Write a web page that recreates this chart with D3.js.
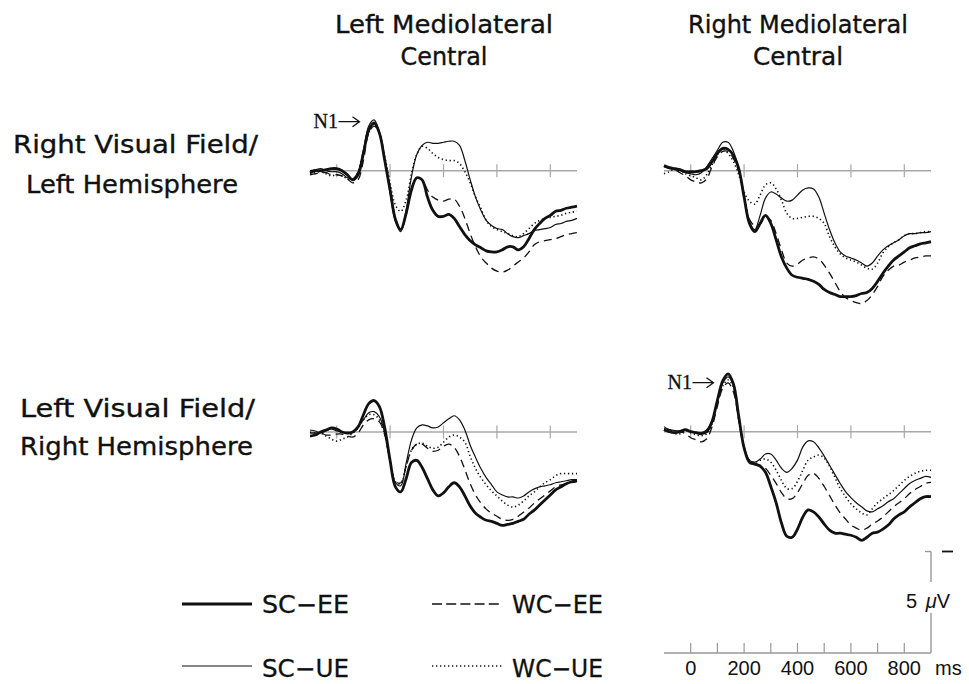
<!DOCTYPE html>
<html><head><meta charset="utf-8">
<script src="https://cdn.jsdelivr.net/npm/d3@7"></script>
<style>body{margin:0;background:#fff}svg{display:block}</style>
</head><body>
<svg id="c" width="969" height="684"></svg>
<script>
// time points (ms)
const times = [-100,-80,-60,-40,-20,0,20,40,60,80,100,120,140,160,180,200,220,240,260,280,300,320,340,360,380,400,420,440,460,480,500,520,540,560,580,600,620,640,660,680,700,720,740,760,780,800,820,840,860,880,900];
const conditions = ["SC-EE","SC-UE","WC-EE","WC-UE"];
const columnTitles = [["Left  Mediolateral","Central"],["Right  Mediolateral","Central"]];
const rowTitles = [["Right Visual Field/","Left Hemisphere"],["Left Visual Field/","Right Hemisphere"]];
const timeTicks = [0,100,200,300,400,500,600,700,800];
const timeTickLabels = [0,200,400,600,800];
const panelTicks = [0,200,400,600,800];
// amplitudes in microvolts (negative plotted up)
const TL_SCEE = [0.1,0,0,-0.05,-0.1,-0.1,0,0.2,0.45,0.2,-0.85,-2.0,-2.35,-1.85,-0.5,0.95,2.4,2.9,2.1,0.95,0.35,0.45,1.3,1.95,2.25,2.25,2.15,2.35,2.75,3.15,3.45,3.65,3.8,3.95,4.0,4.0,3.9,3.75,3.75,3.9,3.75,3.35,2.9,2.6,2.35,2.2,2.0,1.95,1.85,1.8,1.75];
const TL_SCUE = [0,-0.05,-0.1,0,0.05,0.05,0.15,0.35,0.4,0.05,-1.0,-2.2,-2.5,-1.9,-0.5,1.1,2.5,3.0,1.95,0.3,-0.8,-1.25,-1.4,-1.35,-1.35,-1.4,-1.45,-1.45,-1.25,-0.5,0.45,1.3,1.95,2.45,2.7,2.85,2.9,3.1,3.25,3.3,3.2,3.1,2.95,2.9,2.85,2.8,2.65,2.6,2.5,2.45,2.35];
const TL_WCEE = [0.2,0.15,0.1,0.1,0.2,0.2,0.25,0.4,0.6,0.45,-0.5,-1.85,-2.2,-1.85,-0.6,0.85,2.35,2.95,2.2,0.85,0.35,0.45,0.95,1.3,1.45,1.5,1.4,1.4,1.75,2.35,3.1,3.75,4.25,4.55,4.8,4.95,5.0,4.9,4.7,4.5,4.3,4.0,3.65,3.5,3.45,3.4,3.35,3.25,3.15,3.1,3.05];
const TL_WCUE = [0.15,0.1,0.05,0.15,0.25,0.2,0.25,0.4,0.45,0.05,-0.95,-1.9,-2.3,-1.85,-0.7,0.6,1.7,2.0,1.45,0.15,-0.8,-1.2,-1.1,-0.85,-0.65,-0.55,-0.5,-0.5,-0.35,0.05,0.6,1.3,1.85,2.45,2.75,2.9,3.0,3.1,3.2,3.25,3.1,2.85,2.6,2.45,2.35,2.3,2.25,2.2,2.1,2.05,2.0];
const TR_SCEE = [-0.25,-0.15,-0.1,-0.05,0.05,0.05,0.05,0,-0.1,-0.45,-0.85,-1.1,-1.05,-0.75,-0.1,1.3,2.6,3.0,2.6,2.2,2.6,3.4,4.25,4.8,5.15,5.25,5.3,5.35,5.45,5.6,5.85,6.0,6.1,6.2,6.2,6.2,6.15,6.05,6.0,5.8,5.45,5.05,4.7,4.4,4.2,4.0,3.8,3.7,3.6,3.55,3.5];
const TR_SCUE = [-0.25,-0.15,-0.05,0,0.1,0.15,0.2,0.1,-0.2,-0.6,-1.0,-1.4,-1.4,-0.95,-0.1,1.2,2.5,2.9,2.2,1.35,1.05,1.15,1.35,1.5,1.45,1.2,0.95,0.85,0.9,1.3,2.1,2.9,3.55,4.0,4.2,4.3,4.4,4.55,4.7,4.55,4.2,3.9,3.7,3.55,3.4,3.2,3.1,3.1,3.05,3.05,3.0];
const TR_WCEE = [-0.2,-0.1,-0.05,0.1,0.25,0.45,0.55,0.6,0.4,-0.2,-0.7,-0.95,-0.95,-0.6,0.05,1.3,2.4,2.7,2.65,2.25,2.45,3.1,3.9,4.55,4.7,4.6,4.4,4.3,4.25,4.35,4.65,5.05,5.5,5.95,6.25,6.4,6.5,6.55,6.4,6.1,5.7,5.2,4.9,4.7,4.65,4.5,4.4,4.3,4.25,4.2,4.2];
const TR_WCUE = [0.15,0.05,-0.1,-0.05,0.15,0.25,0.35,0.45,0.2,-0.3,-0.8,-1.05,-0.85,-0.45,0.2,1.05,1.5,1.65,1.2,0.7,0.6,0.9,1.45,2.1,2.35,2.35,2.3,2.25,2.25,2.35,2.6,3.25,3.75,4.1,4.3,4.4,4.5,4.65,4.8,4.85,4.55,4.05,3.75,3.55,3.4,3.2,3.1,3.1,3.05,3.0,3.0];
const BL_SCEE = [0.2,0.15,0,-0.1,-0.2,-0.15,0,0.05,0,-0.25,-0.85,-1.4,-1.55,-1.25,-0.2,1.4,2.7,2.95,2.3,1.5,1.4,1.75,2.3,2.85,3.15,3.0,2.7,2.5,2.7,3.15,3.65,4.0,4.2,4.35,4.4,4.5,4.6,4.55,4.5,4.4,4.3,4.05,3.85,3.6,3.35,3.1,2.85,2.7,2.55,2.45,2.4];
const BL_SCUE = [-0.1,-0.05,0.05,-0.05,-0.15,-0.05,0,0.05,0,-0.25,-0.6,-0.95,-1.0,-0.75,0.05,1.45,2.5,2.65,1.55,0.4,-0.2,-0.35,-0.3,-0.2,-0.25,-0.45,-0.65,-0.8,-0.6,-0.1,0.65,1.25,1.8,2.25,2.6,2.95,3.1,3.2,3.2,3.25,3.15,2.95,2.8,2.7,2.65,2.6,2.5,2.45,2.4,2.35,2.35];
const BL_WCEE = [0.05,0.05,0.05,0.15,0.15,0.1,0.1,0.2,0.25,0.05,-0.35,-0.6,-0.65,-0.5,0.15,1.45,2.45,2.5,1.7,0.9,0.6,0.6,0.8,0.95,0.9,0.7,0.6,0.75,1.2,1.85,2.55,3.1,3.5,3.8,4.0,4.15,4.3,4.35,4.3,4.15,3.95,3.75,3.5,3.3,3.1,2.9,2.7,2.6,2.55,2.5,2.45];
const BL_WCUE = [0,0.05,0.05,0.2,0.35,0.45,0.35,0.25,0.05,-0.2,-0.6,-0.85,-0.85,-0.6,0.15,1.4,2.45,2.55,1.7,0.9,0.6,0.55,0.7,0.8,0.75,0.5,0.25,0.15,0.25,0.5,1.2,1.8,2.25,2.6,2.9,3.15,3.4,3.6,3.7,3.6,3.4,3.15,2.95,2.7,2.5,2.35,2.15,2.05,2.05,2.05,2.05];
const BR_SCEE = [-0.1,0,0.05,0,-0.1,0,0.05,0.1,0,-0.5,-1.55,-2.5,-2.85,-2.35,-0.75,0.8,1.5,1.6,1.7,2.0,2.7,3.5,4.5,5.15,5.2,4.8,4.2,3.85,3.95,4.2,4.55,4.85,5.0,5.0,5.05,5.1,5.2,5.35,5.2,5.0,4.95,4.8,4.6,4.3,4.1,3.95,3.7,3.5,3.3,3.2,3.2];
const BR_SCUE = [-0.25,-0.1,-0.05,-0.05,-0.1,0,0.05,0.05,-0.1,-0.55,-1.55,-2.4,-2.7,-2.3,-0.75,0.75,1.4,1.5,1.35,1.1,1.1,1.4,1.8,2.0,1.8,1.4,0.75,0.45,0.5,0.8,1.2,1.65,2.1,2.55,2.95,3.25,3.5,3.7,3.9,3.95,3.8,3.65,3.45,3.3,3.05,2.8,2.55,2.4,2.3,2.2,2.25];
const BR_WCEE = [-0.15,-0.1,0,0,0.1,0.3,0.4,0.5,0.35,-0.25,-1.25,-2.15,-2.4,-1.95,-0.55,0.85,1.5,1.55,1.65,1.8,2.15,2.55,3.0,3.3,3.3,3.0,2.55,2.15,2.05,2.3,2.7,3.15,3.6,4.0,4.3,4.6,4.75,4.85,4.75,4.55,4.4,4.2,3.95,3.7,3.5,3.3,3.05,2.85,2.7,2.55,2.5];
const BR_WCUE = [-0.1,0,0.1,0.1,-0.05,0.05,0.15,0.2,0.1,-0.4,-1.4,-2.25,-2.55,-2.2,-0.65,0.75,1.4,1.5,1.4,1.35,1.5,1.9,2.4,2.8,2.8,2.45,1.9,1.4,1.25,1.15,1.3,1.7,2.25,2.8,3.2,3.55,3.8,4.0,4.1,3.8,3.5,3.3,3.1,2.9,2.65,2.4,2.2,2.05,1.95,1.9,1.9];

const scaleBarUV = 5;

// ---------- drawing ----------
const svg = d3.select("#c");
const INK = "#111";
const styles = {
  "SC-EE": {w: 2.8, dash: null},
  "SC-UE": {w: 1.2, dash: null},
  "WC-EE": {w: 1.3, dash: "8,5"},
  "WC-UE": {w: 1.6, dash: "1.3,2.7"}
};
const pxPerUV = 20.3;
const panels = [
  {x0: 310, base: 170.7, series: {"SC-EE":TL_SCEE,"SC-UE":TL_SCUE,"WC-EE":TL_WCEE,"WC-UE":TL_WCUE}, n1: true},
  {x0: 664, base: 170.7, series: {"SC-EE":TR_SCEE,"SC-UE":TR_SCUE,"WC-EE":TR_WCEE,"WC-UE":TR_WCUE}, n1: false},
  {x0: 310, base: 432,   series: {"SC-EE":BL_SCEE,"SC-UE":BL_SCUE,"WC-EE":BL_WCEE,"WC-UE":BL_WCUE}, n1: false},
  {x0: 664, base: 431.7, series: {"SC-EE":BR_SCEE,"SC-UE":BR_SCUE,"WC-EE":BR_WCEE,"WC-UE":BR_WCUE}, n1: true}
];
const GEOM = "'DejaVu Sans', 'Noto Sans', sans-serif";

panels.forEach(p => {
  const x = d3.scaleLinear().domain([-100, 900]).range([p.x0, p.x0 + 267]);
  const y = d3.scaleLinear().domain([0, 5]).range([p.base, p.base + 5 * pxPerUV]);
  const g = svg.append("g");
  g.append("line").attr("x1", x(-100)).attr("x2", x(900)).attr("y1", y(0)).attr("y2", y(0))
    .attr("stroke", "#a8a8a8").attr("stroke-width", 1.5);
  g.selectAll("line.tk").data(panelTicks).join("line").attr("class","tk")
    .attr("x1", d => x(d)).attr("x2", d => x(d))
    .attr("y1", y(0) - 6.5).attr("y2", y(0) + 6.5)
    .attr("stroke", "#a8a8a8").attr("stroke-width", 1.2);
  const line = d3.line().x((d, i) => x(times[i])).y(d => y(d)).curve(d3.curveCatmullRom.alpha(0.5));
  ["WC-UE","WC-EE","SC-UE","SC-EE"].forEach(c => {
    const st = styles[c];
    g.append("path").datum(p.series[c]).attr("d", line)
      .attr("fill", "none").attr("stroke", INK).attr("stroke-width", st.w)
      .attr("stroke-dasharray", st.dash).attr("stroke-linejoin", "round");
  });
  if (p.n1) {
    const nx = x(-100) + 3.5, ny = p.base - 43;
    g.append("text").attr("x", nx).attr("y", ny)
      .attr("font-family", "'Liberation Serif', 'DejaVu Serif', serif").attr("font-size", 20)
      .attr("fill", INK).attr("stroke", INK).attr("stroke-width", 0.3).text("N1");
    const ay = ny - 6, ax0 = nx + 25, ax1 = nx + 46;
    g.append("path").attr("d", `M${ax0},${ay}H${ax1}M${ax1 - 7},${ay - 5}L${ax1},${ay}L${ax1 - 7},${ay + 5}`)
      .attr("fill", "none").attr("stroke", INK).attr("stroke-width", 1.3);
  }
});

// column titles
const colCenters = [444, 798];
columnTitles.forEach((t, i) => {
  const widths = i === 0 ? [218, 87] : [220, 90];
  [33, 65].forEach((yy, j) => {
    svg.append("text").attr("x", colCenters[i]).attr("y", yy).attr("text-anchor", "middle")
      .attr("font-family", GEOM).attr("font-size", 24).attr("fill", INK)
      .attr("stroke", INK).attr("stroke-width", 0.35)
      .attr("textLength", widths[j]).attr("lengthAdjust", "spacingAndGlyphs").text(t[j]);
  });
});
// row titles
const rowPos = [[{x:13,y:153,w:245},{x:26,y:193,w:212}],[{x:20,y:417,w:235},{x:20,y:455,w:233}]];
rowTitles.forEach((t, i) => {
  t.forEach((s, j) => {
    const r = rowPos[i][j];
    svg.append("text").attr("x", r.x).attr("y", r.y)
      .attr("font-family", GEOM).attr("font-size", 24).attr("fill", INK)
      .attr("stroke", INK).attr("stroke-width", 0.35)
      .attr("textLength", r.w).attr("lengthAdjust", "spacingAndGlyphs").text(s);
  });
});

// legend
const legendPos = {"SC-EE":[182,604,613], "WC-EE":[432,604,613], "SC-UE":[182,666,677], "WC-UE":[432,666,677]};
conditions.forEach(c => {
  const [lx, ly, ty] = legendPos[c];
  const st = styles[c];
  svg.append("line").attr("x1", lx).attr("x2", lx + 70).attr("y1", ly).attr("y2", ly)
    .attr("stroke", INK).attr("stroke-width", st.w === 2.8 ? 3 : st.w)
    .attr("stroke-dasharray", st.dash === "8,5" ? "10,4.2" : st.dash);
  svg.append("text").attr("x", lx + 80).attr("y", ty)
    .attr("font-family", GEOM).attr("font-size", 24).attr("fill", INK)
    .attr("stroke", INK).attr("stroke-width", 0.3)
    .attr("textLength", c.startsWith("S") ? 87 : 91).attr("lengthAdjust", "spacingAndGlyphs")
    .text(c.replace("-", "\u2212"));
});

// time axis and voltage scale bar
const tx = d3.scaleLinear().domain([-100, 900]).range([664, 931]);
const axisY = 653;
const vy = d3.scaleLinear().domain([0, scaleBarUV]).range([axisY, axisY - scaleBarUV * pxPerUV]);
const AX = "#999";
svg.append("line").attr("x1", tx(-100)).attr("x2", tx(900)).attr("y1", axisY).attr("y2", axisY)
  .attr("stroke", AX).attr("stroke-width", 1.4);
svg.selectAll("line.at").data(timeTicks).join("line").attr("class","at")
  .attr("x1", d => tx(d)).attr("x2", d => tx(d)).attr("y1", axisY).attr("y2", axisY - 10)
  .attr("stroke", AX).attr("stroke-width", 1.2);
svg.selectAll("text.al").data(timeTickLabels).join("text").attr("class","al")
  .attr("x", d => tx(d)).attr("y", 675).attr("text-anchor", "middle")
  .attr("font-family", "'Liberation Sans', Arial, sans-serif").attr("font-size", 20).attr("fill", INK)
  .text(d => d);
svg.append("text").attr("x", 935).attr("y", 675)
  .attr("font-family", "'Liberation Sans', Arial, sans-serif").attr("font-size", 20).attr("fill", INK).text("ms");
// vertical bar with gap for label
svg.append("line").attr("x1", tx(900)).attr("x2", tx(900)).attr("y1", vy(0)).attr("y2", vy(1.97))
  .attr("stroke", AX).attr("stroke-width", 1.4);
svg.append("line").attr("x1", tx(900)).attr("x2", tx(900)).attr("y1", vy(3.5)).attr("y2", vy(scaleBarUV))
  .attr("stroke", AX).attr("stroke-width", 1.4);
svg.append("line").attr("x1", tx(900) - 6).attr("x2", tx(900)).attr("y1", vy(scaleBarUV)).attr("y2", vy(scaleBarUV))
  .attr("stroke", AX).attr("stroke-width", 1.4);
svg.append("line").attr("x1", 942).attr("x2", 953).attr("y1", vy(scaleBarUV)).attr("y2", vy(scaleBarUV))
  .attr("stroke", INK).attr("stroke-width", 1.8);
const lab = svg.append("text").attr("x", 906).attr("y", 608)
  .attr("font-family", "'Liberation Sans', Arial, sans-serif").attr("font-size", 20).attr("fill", INK);
lab.append("tspan").text(scaleBarUV + " ");
lab.append("tspan").attr("dx", 3).attr("font-style", "italic").text("\u03bc");
lab.append("tspan").text("V");
</script>
</body></html>
